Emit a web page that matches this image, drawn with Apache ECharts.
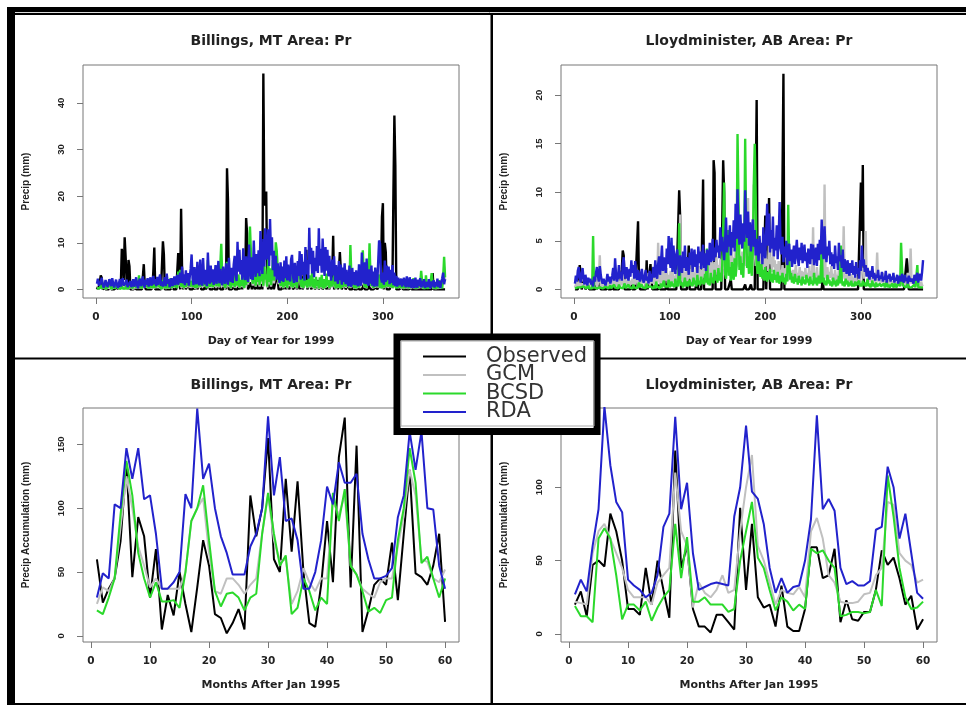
<!DOCTYPE html>
<html><head><meta charset="utf-8">
<script src="https://cdn.jsdelivr.net/npm/echarts@6/dist/echarts.min.js"></script>
<style>html,body{margin:0;padding:0;background:#fff}#c{width:966px;height:705px}</style>
</head><body><div id="c"></div>
<script>
// ---------- names / ticks ----------
const seriesNames = ['Observed', 'GCM', 'BCSD', 'RDA'];
const panelTitles = ['Billings, MT Area: Pr', 'Lloydminister, AB Area: Pr', 'Billings, MT Area: Pr', 'Lloydminister, AB Area: Pr'];
const xNames = ['Day of Year for 1999', 'Day of Year for 1999', 'Months After Jan 1995', 'Months After Jan 1995'];
const yNames = ['Precip (mm)', 'Precip (mm)', 'Precip Accumulation (mm)', 'Precip Accumulation (mm)'];
const xTicksDay = [0, 100, 200, 300];
const xTicksMonth = [0, 10, 20, 30, 40, 50, 60];
const yTicksTL = [0, 10, 20, 30, 40];
const yTicksTR = [0, 5, 10, 15, 20];
const yTicksBL = [0, 50, 100, 150];
const yTicksBR = [0, 50, 100, 150];

// ---------- daily data, Billings 1999 ----------
const obsB = [0,0.5,0,0,3,2.5,0,0,0.5,0,0,0,0,0,0.5,0,0,0,0,0,0,0.5,0,0,0,1,8.7,6.8,2,11.2,
7,2,0,6.3,5,0,0,0,0,0,0.5,0,0,0,0,0,0,0,0,5.4,1,0,0,0,0,0,0,0,0.5,4,
9,0,0,0,0,0,0,0,0,10.3,7.5,0,0,0,0,0,0,0,0,1,0,0,0,0,0,7.8,5,0,17.3,4.5,
0,1,2,0,0,0,1.5,0,0,0,0,1.5,0,0,1,0,0,0,1.8,0,0,0,0,2,0,0,0,1.5,0,0,
0,0,1,0,0,0,0,0,2,0,0,0,0,0,4,0,26,19.3,0,0,0,0,0,1.5,0,0,0,0,1,0,
0,1.5,0,0,3,1.5,15.3,12,0,0,0,1.5,0,0,2,0,0,1,0,2,0,0,1.5,0,46.3,19,18,21,3,0,
0,2,0,0,1.5,0,0,0,3,2,0,0,0,0,1.5,0,0,2,0,4,3.5,0,0,0,2,0,0,0,1,0,
0,2,0,0,3,0,0,0,1.5,8.5,0,0,0,2,0,0,0,1.5,0,0,0,2,0,0,0,1.5,0,0,0,1,
0,0,1.5,0,0,0,3,11.5,0,0,0,1.5,0,0,8,7.8,0,0,0,1.5,0,0,0,1,0,0,0,0,1,0,
0,0,0,1.5,0,0,0,0,0,1,0,0,0,0,0,1,0,0,0,0,0,0,0.5,0,0,0,1,3,15.5,18.5,
0,10,8,0,0,0,0,0,0,2,20.8,37.3,26.5,0,0,0,0,0,0,0.5,0,0,0,0,0,0,0,0,0.5,0,
0,0,0,0,0,0,0,0,0,0,0,0,0,0,0,0,0,0,0,0,0,3.5,0,0,0,0,0,0,0,0,
0,0,0,0,0];
const gcmB = [0.3,0.5,0.1,0.2,0.7,0.2,0.1,0.3,0.6,0.1,0.2,0.1,0.4,0.2,0.8,0.1,0.3,0.1,0.5,0.2,0.1,0.6,0.2,0.1,0.4,0.1,0.6,0.2,0.1,0.3,
0.2,0.7,0.1,0.3,0.1,0.5,0.9,0.2,0.1,0.4,1,0.2,1.3,0.3,1.8,0.2,0.8,0.2,0.5,0.1,1.4,0.4,0.2,0.9,0.2,0.6,1.5,0.2,0.1,0.7,
0.2,1.1,0.3,0.1,1.7,0.5,0.2,0.8,0.1,1.4,0.3,0.9,0.1,0.4,1.2,0.2,0.7,1.7,0.2,0.1,0.9,0.4,1.5,0.6,0.2,2.6,0.8,2.9,0.4,0.2,
1.1,0.2,1.8,0.4,0.1,1,2.2,0.4,0.1,1.3,0.4,2.8,0.7,0.2,1.4,0.3,0.6,2,0.4,0.1,1.5,0.5,0.2,1.8,0.6,0.2,4.2,1,0.4,0.2,
1.4,0.4,0.1,0.9,2.3,0.5,0.2,1.5,0.4,3.6,6.5,2,0.6,1.5,0.2,0.8,4,1.4,0.5,2,0.2,1.3,0.6,2.6,0.4,0.1,1.7,0.6,2.2,0.3,
1.4,0.5,2.8,0.8,0.2,1.9,0.6,3.6,1,4.8,8,5.5,2,0.8,3.8,2.5,0.6,2,1.1,4.2,0.6,2.4,1.2,2.9,0.6,3.5,1.5,2.2,0.4,4.6,
1.1,3.1,0.6,2.2,4.4,1.3,2.6,6.8,5.8,3.2,1.1,2.8,0.5,2,0.8,0.3,2.4,0.5,1.7,0.2,2.2,0.7,3.1,0.4,1.7,0.3,2.4,0.6,1.5,0.2,
2,2.9,4.5,1,0.4,1.6,0.2,2.2,0.6,1.4,0.3,0.1,2.1,0.4,1.2,2.5,0.3,1.5,0.1,1.9,0.5,1.3,0.1,1.8,0.4,2.2,0.6,0.1,1.5,0.3,
2.4,0.6,1.4,0.2,0.1,1.7,0.4,0.1,2.2,0.6,0.1,1.3,0.3,2.8,0.5,0.1,1.5,0.4,0.1,2.1,0.4,0.1,1,1.7,0.3,6.5,2,0.5,1.5,0.2,
1.3,0.1,0.8,2.2,0.3,0.1,1.5,2.8,5.8,1.5,0.4,2,0.2,3.1,1.3,6.8,2.1,0.5,1.5,0.2,1.7,0.4,0.1,1.6,0.4,2.2,0.2,1.3,0.1,0.8,
1.5,0.3,0.1,1.8,0.4,0.1,1.3,0.4,2,0.2,0.1,1.4,0.5,0.1,1.5,0.3,0.1,1.1,0.2,0.1,1,0.1,1.3,0.3,0.1,0.8,0.1,1.4,0.2,0.1,
0.7,1.7,0.1,0.9,0.1,1.1,0.3,0.1,0.8,2.8,1.3,0.1,0.8,0.1,2.1,0.4,0.1,0.9,0.2,0.1,2.5,0.6,0.1,1,0.1,0.4,0.8,0.1,1.4,0.2,
0.6,0.1,1.6,4.9,1.8];
const bcsdB = [0.2,0.6,0.1,0.3,1,0.2,0.1,0.4,0.8,0.1,0.3,0.1,0.6,0.2,1.1,0.1,0.4,0.1,0.7,0.2,0.1,0.9,0.3,0.1,0.5,0.1,0.8,0.2,0.1,0.4,
0.2,1,0.1,0.4,0.1,0.7,1.3,0.2,0.1,0.6,1.4,0.3,1.9,0.4,3,0.3,1.1,0.2,0.6,0.1,2,0.5,0.2,1.3,0.2,0.8,2.2,0.3,0.1,0.9,
0.3,1.5,0.4,0.2,2.5,0.7,0.3,1.1,0.1,2,0.4,1.2,0.2,0.5,1.6,0.2,0.9,2.4,0.3,0.2,1.2,0.5,2.1,0.8,0.3,3.8,1.1,4.2,0.6,0.3,
1.5,0.3,2.6,0.6,0.2,1.4,3.1,0.6,0.2,1.8,0.5,4.1,0.9,0.3,2,0.4,0.8,2.9,0.6,0.2,2.2,0.7,0.3,2.6,0.8,0.3,6.3,1.4,0.6,0.3,
2,0.5,0.2,1.3,3.3,0.7,0.3,2.2,0.6,5.2,9.8,2.8,0.8,2.2,0.3,1.2,5.9,2,0.7,2.9,0.3,1.8,0.9,3.8,0.5,0.2,2.4,0.8,3.2,0.4,
2,0.7,4,1.1,0.3,2.7,0.9,5.2,1.4,6.9,13.5,8,2.8,1.2,5.5,3.6,0.8,2.9,1.6,6,0.9,3.4,1.7,4.2,0.8,5,2.1,3.2,0.6,6.6,
1.6,4.5,0.9,3.2,6.3,1.9,3.8,10.1,8.3,4.6,1.6,4,0.7,2.9,1.2,0.4,3.5,0.7,2.4,0.3,3.1,1,4.4,0.6,2.5,0.4,3.4,0.8,2.1,0.3,
2.8,4.2,6.5,1.4,0.5,2.3,0.3,3.2,0.8,2,0.4,0.2,3,0.6,1.7,3.6,0.4,2.2,0.2,2.7,0.7,1.9,0.2,2.6,0.5,3.1,0.8,0.2,2.2,0.4,
3.4,0.8,2,0.3,0.1,2.5,0.6,0.2,3.2,0.9,0.2,1.9,0.4,4,0.7,0.2,2.2,0.5,0.1,3,0.6,0.2,1.5,2.5,0.4,9.5,2.8,0.7,2.1,0.3,
1.9,0.2,1.2,3.1,0.4,0.1,2.1,4,8.4,2.2,0.5,2.8,0.3,4.5,1.8,9.9,3,0.7,2.2,0.3,2.5,0.5,0.1,2.3,0.6,3.2,0.3,1.9,0.2,1.1,
2.1,0.4,0.1,2.6,0.6,0.2,1.9,0.5,2.9,0.3,0.1,2,0.7,0.2,2.2,0.4,0.1,1.6,0.3,0.1,1.4,0.2,1.8,0.4,0.1,1.2,0.2,2,0.3,0.1,
1,2.4,0.2,1.3,0.1,1.6,0.4,0.1,1.1,4,1.8,0.2,1.2,0.1,3,0.6,0.1,1.3,0.3,0.1,3.5,0.9,0.2,1.5,0.1,0.6,1.2,0.2,2,0.3,
0.8,0.2,2.3,7,2.6];
const rdaB = [1.2,2.3,0.8,0.4,1.6,2.5,1.1,0.4,0.9,2,1.3,0.5,1.1,2.2,1.5,0.7,2.4,1.2,0.4,1.2,2.1,0.9,0.3,1.3,2.2,0.6,1.6,2.4,0.8,0.4,
1.3,2.1,0.5,0.2,0.9,1.8,0.5,1.2,2.2,0.6,1.3,2.6,0.8,0.3,1.7,2.3,0.7,1.4,2.8,0.9,0.4,2.1,1,2.4,0.6,1.5,2.6,0.8,1.7,2.9,
1.1,2.2,0.7,2.7,1,2.1,3.2,0.8,1.7,0.6,1.5,2.6,0.7,3.4,1.2,2.2,0.5,1.2,2.4,0.7,1.6,2.8,0.9,2.1,3.1,1,2.3,3.6,1.4,4.9,
1.3,3.2,0.9,4.1,1.4,3.5,0.8,2.6,4.4,7.5,2.4,0.9,4.8,1.8,1.1,5.9,2,0.9,6.4,1.9,0.8,6.7,2.3,1.1,4.2,0.7,7.9,2.4,1.2,5.1,
1.5,4.3,1,2.5,5.2,1.2,3.4,6.1,1.3,4.4,2.1,0.9,4.9,2.2,1.2,5.6,2.8,1,6.8,3,1.6,4.6,1.4,5.3,7.2,3.1,1.8,10.2,3.8,8.5,
3.2,6.3,2.1,8.8,3.8,2,7.1,2.9,1.6,9.6,4.4,2.2,6.9,2,10.5,4.8,2.7,7.6,3.5,8.4,2.8,12.5,6,3.3,10.8,4.9,13.1,6.4,8.2,12.9,
5,15.1,7.3,11.2,4.1,8.3,2.8,7.2,2.1,5.6,2.7,1.4,5.8,1.8,4.9,1.6,6.2,2.4,7.1,1.9,5.3,2.5,1.7,6.4,7.4,2.8,1.4,5.7,2.6,1.6,
6.1,2.9,8.2,2.1,7.6,3.1,5.9,1.9,9.1,3.2,6.3,2.3,13.2,5.4,8.9,3.4,8.3,2.6,6.8,3.9,9.3,3.5,13.1,5.1,8.7,3.6,10.9,5.8,2.9,9.1,
4,8.5,2.8,7.2,3.6,1.9,6.4,3,7.1,1.7,5.2,2.6,1.2,6.1,2,5.3,1,4.7,1.6,5.6,1.1,4.2,1.5,0.7,5.1,1.4,0.6,4.6,1,3.7,
0.9,4.1,1.5,0.7,5.4,1.3,0.8,7.9,2.6,1.3,5.8,1.1,6.6,1.6,0.8,4.3,1.2,5.1,0.8,3.8,0.6,4.7,1.3,0.7,5.6,10.5,9.8,2.5,1.5,3.6,
1,6.2,1.6,5.1,2,4.9,1.1,4.2,1.4,5.2,0.9,3.6,0.7,2.9,0.6,2.5,0.9,1.6,2.3,0.6,0.4,2.5,1,0.5,2.8,1.2,0.5,2.6,0.9,0.3,
2.2,0.8,0.3,2.5,0.9,0.4,2.1,0.7,2.4,0.4,1.8,0.6,2.2,0.3,1.6,1.9,0.5,2.2,0.8,0.2,1.7,0.6,2,0.4,1.6,0.7,2.3,0.5,1.8,0.3,
1.5,2.4,3.6,1.1,2.2];

// ---------- daily data, Lloydminister 1999 ----------
const obsL = [0,0,0,0,0.5,2.5,1.5,0,0,0,1,0,0,0,0.5,0,0,0,0,0,0,0,0.5,0,0,0,1.5,0,0,0,
0,0,0,0,0.5,0,0,0,0,1,0,0,0,0,0,0,0,0,0,2,4,3.5,0,0,0,0,0,0,0,0.5,
0,0,0,0,0,0,7,0.5,0,0,0,0,0,0,0,3,0,0,0,2.6,1,0,0,0,0,0,0,0,0.5,0,
0,0,0,0,0,0,1,0,0,0,0,0,0,0,0,0,0,0,0,10.2,7.5,0,0,0,0,0,0,0,0,4.5,
0,0,0,0,0,0,0,0,1.5,0,0,0,0,0,11.3,0,0,0,0,0,0,0,0,0,0,13.3,12,0,0,0,
0,0,0,0,0,13.3,10,0,0,0,0,0,0,1,0,0,0,0,0,0,0,0,0,0,0,0,0,0,0.5,0,
0,0,0,0,0.5,0,0,0,0,0,19.5,0,0,0,0,0,0,0,0,7.6,0,0,0,9.4,0,0,0,0,0,0,
0,0,0,0,0,0,0,0,22.2,0,0,0,0,0,0,0,0,0,0,0,0,0,0,0,0,0,0,0,0,0,
0,0,0,0,0,0,0,0,0,0,0,0,0,0,0,0,0,0,0,1,0,0,0,0,0,0,0,0,0,0,
0,0,0,0,0,0,0,0,0,0,0,0,0,0,0,0,0,0,0,0,0,0,0,0,0,0,0,0,0,11,
6,12.8,0,0,0,0,0,0,0,0,0,0,0,0,0,0,0,0,0,0,0,0,0,0,0,0,0,0,0,0,
0,0,0,0,0,0,0,0,0,0,0,0,0,0,0,0,0,3.2,2,0,0,0,0,0,0,0,0,0,0,0,
0,0,0,0,0];
const gcmL = [0.2,0.4,0.7,0.2,0.5,0.9,0.3,0.1,0.6,0.3,0.8,0.2,0.4,0.1,0.8,0.2,0.5,0.2,0.7,0.3,0.1,0.6,1.1,0.2,0.4,1,3.5,0.5,0.2,0.6,
0.3,0.8,0.2,0.5,0.9,0.2,0.6,0.3,1.1,0.3,0.6,1,0.2,0.7,1.4,0.3,0.9,0.3,1.2,0.4,1.6,0.5,0.3,1,0.4,0.8,1.5,0.3,0.9,0.5,
1.1,0.4,1.6,0.5,0.3,1.2,1.9,0.4,0.9,0.3,1.3,0.6,0.4,1.4,0.6,0.3,1,1.7,0.5,0.4,1.2,0.6,1.8,0.7,0.4,1.6,0.8,4.8,0.9,0.5,
1.6,0.7,2.5,0.6,1.8,0.9,2.2,0.6,1.5,0.4,1.9,0.8,2.4,0.7,1.4,0.5,2,0.9,2.7,0.7,7.7,1.7,0.8,2.3,0.7,1.8,0.5,2,0.8,2.4,
1.1,2.1,0.6,2.6,1.2,1.7,0.7,3,1.4,0.8,2.4,1,2,0.6,2.8,1.2,3.1,0.9,2.5,1.5,0.8,2.7,1.3,3.2,1.7,1,2.8,1.5,3.4,1.8,
2.5,1.2,3.1,1.8,2.8,3.6,2.1,3.4,1.5,2.6,3.6,1.8,3,2.2,5,1.9,3.3,2.1,4.2,2.5,3.1,4.6,2.3,3.5,2,3.9,2.5,3.3,4.5,2.4,
3.8,9.4,2.9,4,2.6,4.6,3.1,10.8,3.9,2.4,4.9,2.9,3.7,2.2,4.2,2.8,2,3.5,1.7,4,2.4,3.1,1.9,5.1,2.6,3.3,1.8,4.4,2.3,3,
1.2,2.6,1.5,2.9,1.3,2,1,2.5,1.5,0.9,2.2,1.2,1.8,0.9,2.4,1.1,1.9,0.8,2,1.1,1.6,2.5,0.9,1.7,1.2,2.3,1,1.9,0.8,1.8,
1.2,2.2,0.9,1.7,1.1,2.4,0.8,1.9,1.3,6.4,1,1.7,0.8,2.3,1.1,1.5,0.9,2.5,1.2,2,1,10.8,1.8,1.1,2.3,0.9,1.8,1.2,2.4,1,
1.6,0.8,2,1,1.5,0.7,2.2,1,1.7,0.9,1.9,6.5,1.1,1.5,0.7,1.8,0.9,1.4,0.6,1.6,0.8,1.2,0.6,1.5,0.9,1.1,0.5,1.4,0.7,1.7,
1.5,2.2,1.1,1.7,6,1.4,2.1,1,1.6,0.8,1.9,1.2,0.9,1.5,0.7,1.3,3.8,0.8,1.4,0.6,1.2,0.7,1.7,0.5,1.1,0.5,1.5,0.6,1,0.4,
1.3,0.5,0.9,0.3,1.4,0.6,0.8,0.3,1.1,0.5,1.5,0.4,0.9,0.5,1.2,0.3,0.7,0.4,1.7,0.4,1,4.2,0.6,0.4,0.9,0.3,0.7,0.4,1.3,0.3,
0.6,0.2,0.8,0.4,0.5];
const bcsdL = [0.1,0.3,0.1,0.2,0.4,0.1,0.2,0.1,0.2,0.3,0.1,0.2,0.1,0.2,0.4,0.1,0.1,0.3,0.1,5.5,0.2,0.1,0.3,0.1,0.3,0.1,0.2,0.1,0.4,0.1,
0.2,0.1,0.3,0.1,0.3,0.1,0.2,0.4,0.1,0.3,0.1,0.5,0.2,0.1,0.3,0.1,0.5,0.2,0.1,0.4,0.1,0.3,0.6,0.1,0.2,0.1,0.5,0.2,0.1,0.3,
0.1,0.5,0.2,0.1,0.4,0.1,0.3,0.7,0.2,0.1,0.5,0.2,0.1,0.3,0.1,0.6,0.2,0.4,0.1,0.3,0.5,0.2,0.1,0.4,0.1,0.8,0.3,0.2,0.5,0.1,
0.6,0.2,0.4,0.9,0.3,0.1,0.5,0.3,1,0.2,0.5,0.8,0.3,0.6,0.2,1.1,0.3,0.7,0.3,6.8,1,0.4,0.7,0.2,0.5,1.2,0.3,0.8,0.3,0.6,
1,0.4,0.7,0.3,1.2,0.5,0.9,0.3,1.5,0.5,0.9,0.4,1.3,0.6,1,0.5,1.6,0.7,4.2,0.5,1.1,0.4,1.7,0.7,1.2,0.6,2,0.9,1.4,0.7,
2.2,0.9,1.7,0.8,2.5,6.2,11,1.6,1.1,3,6.1,1.4,2.3,0.9,2.8,1.5,1,3.2,1.3,2.4,16,9.5,2,3.4,1.5,2.7,1.2,4,15.5,6.5,
2.2,3.4,1.6,6.3,2.3,1.4,4.1,10.8,15,9.6,2.7,1.6,3.5,2,1.3,2.6,1.1,2,0.9,2.3,1.3,0.8,1.8,1,2.1,0.8,1.6,0.7,2,1,
1.5,0.7,1.8,0.9,0.6,1.4,0.8,1.7,0.7,1.2,0.5,1.6,0.8,8.7,3.2,1,1.7,0.7,1.3,0.6,1.6,0.8,1.1,0.5,1.4,0.7,1,0.4,1.3,0.6,
1,0.5,1.5,0.7,1.1,0.4,1.3,0.6,0.9,0.4,1.7,0.6,1.2,0.4,0.9,1.4,0.6,1,5,0.7,1.2,0.5,0.9,0.4,1.5,0.6,1,0.4,0.8,0.3,
1.2,0.5,0.9,0.3,1,0.4,1.4,0.6,4.5,0.9,0.4,0.8,0.3,1.1,0.5,0.9,0.3,0.7,0.4,0.9,0.3,0.6,0.3,0.8,0.4,0.6,0.2,0.9,0.3,0.6,
0.3,0.9,0.4,0.7,0.3,0.6,1.1,0.3,0.6,0.2,0.5,0.9,0.3,0.6,0.2,0.7,0.3,0.5,0.2,0.6,0.3,0.4,0.2,0.6,0.2,0.4,0.8,0.2,0.5,0.2,
0.4,0.2,0.6,0.2,0.4,0.6,0.2,0.4,0.2,0.7,0.3,4.8,2.1,0.4,0.2,0.5,0.2,0.4,0.6,0.2,0.3,0.4,0.2,0.4,0.2,0.5,0.2,0.3,2.5,0.2,
0.2,0.4,0.2,0.3,0.2];
const rdaL = [0.6,1.4,0.8,1.9,2.3,1.2,0.7,1.6,2.2,1.1,0.5,1.5,0.9,0.4,1.2,0.7,1.1,0.5,0.9,0.3,1.3,0.8,1.7,2.3,1.4,0.8,2.4,1.5,0.9,0.6,
1.1,0.7,0.4,0.9,1.6,0.8,1.3,0.6,1,1.4,2.2,0.9,3.2,1.5,0.8,1.2,2.5,1.1,1.8,0.9,2.7,3.3,1.6,1.1,2.3,1.4,0.9,2.1,1.3,3,
1.7,2.5,1.1,2.9,1.5,1,2,1.2,0.8,1.6,2.1,1,0.7,1.4,2,0.9,1.3,0.6,1.9,1.1,0.8,1.5,2.3,1.2,3,1.6,1.1,2.6,3.4,1.5,
2.8,4.5,1.9,3.3,2.5,1.7,4.2,2.6,5.5,3.1,2.2,5.3,1.8,4.5,2.9,1.6,3.6,4.1,2.5,1.4,3.5,2.4,1.7,3.9,2.2,4.5,1.9,3.3,2.7,1.5,
3.8,2.5,4.2,1.8,3.3,4.1,2.3,3.6,1.7,4.4,2.7,3.9,2.1,3.4,4.6,2.2,3.7,1.9,4.1,3.1,2.5,4.8,2.8,3.6,5.2,2.9,4.3,3.3,5.1,3.8,
4.5,3.2,6.4,3.9,5.4,4.1,3,4.9,7.4,3.8,5.6,4.4,6.6,3.5,5.9,4.3,7.1,3.9,8.8,5.2,10.3,6.3,4.6,7.7,5.5,4.2,6.8,4.9,10.2,6.5,
5.3,8,4.5,6.9,3.9,5.7,7.2,4.4,6.1,3.5,5.2,4.3,2.9,5.5,3.7,4.8,2.6,6.4,4.1,3.2,5.9,8.8,4.5,7.8,3.8,6.1,4.2,7.5,3.4,5.3,
4,6.6,3.1,5.2,9,4.3,3.6,5.4,2.8,4.4,3.3,5,2.5,3.8,4.7,2.9,4.1,2.3,3.6,4.5,2.6,3.9,5.1,3.2,2.4,4.3,3,4.8,2.7,3.5,
4.6,2.9,3.8,2.2,4.2,3.3,2.6,4.7,3.1,4.6,2.5,3.7,4.3,2.4,4.7,3,5.1,3.6,7.2,4.2,3.1,6.5,3.9,2.8,4.4,3.5,5,2.6,3.8,2.4,
3.6,2.1,4.5,2.7,3.4,2,4.8,2.9,3.5,2.2,4.1,1.8,3.1,2.4,1.6,3,2.1,1.4,2.7,1.7,3,1.5,2.4,1.2,2.8,1.6,2.2,1.1,3,1.9,
4.5,2.4,3.1,1.8,2.5,1.3,2.2,1.6,1,1.9,1.3,2.4,1.1,1.7,0.9,1.5,1.2,2,0.9,1.4,1.1,1.8,0.8,1.3,1,1.9,0.7,1.4,1.1,1.6,
0.8,1.3,1,1.7,0.7,1.2,0.9,1.5,0.6,1.1,1.4,0.8,1.6,1,0.7,1.5,0.9,1.2,0.6,1.4,1.6,0.8,1.1,1.3,0.6,1.5,0.9,1.2,1.7,0.7,
1.3,1.6,0.9,1.8,3];

// ---------- monthly accumulation, Jan 1995 - Dec 1999 ----------
const obsMB = [60,26,37,45,74,135,46,93,78,30,68,5,32,16,50,25,3,38,75,55,17,14,2,10,21,5,110,78,100,155,60,50,123,66,121,50,10,7,40,90,42,140,171,38,149,3,20,40,45,40,73,28,80,130,49,46,40,55,80,11];
const gcmMB = [25,38,35,45,85,125,100,70,55,38,45,37,37,37,37,50,90,100,108,65,35,33,45,45,40,33,40,45,80,110,75,58,60,25,35,53,42,35,45,45,105,95,110,55,48,37,33,30,42,45,45,70,95,130,110,60,58,45,42,52];
const bcsdMB = [20,17,30,45,95,137,110,65,45,30,42,27,27,28,22,50,90,100,118,75,35,23,33,34,30,20,30,33,80,112,80,55,63,17,22,45,35,20,30,25,112,90,115,55,48,35,19,22,18,28,30,75,100,147,120,57,62,45,30,45];
const rdaMB = [30,49,45,103,100,147,123,147,107,110,80,37,37,42,50,111,100,178,123,135,100,78,65,48,48,48,70,80,100,172,110,140,90,92,75,37,37,50,75,117,103,136,120,120,127,80,60,45,45,47,53,93,110,160,130,160,100,99,55,37];
const obsML = [20,29,12,47,50,46,82,70,50,17,17,13,45,20,50,30,11,125,45,60,17,5,5,1,13,13,8,3,86,30,75,25,18,20,5,33,5,2,2,17,59,59,38,40,58,8,23,10,9,15,15,30,57,47,52,38,20,26,3,10];
const gcmML = [22,21,20,55,70,75,65,55,45,30,25,25,25,20,35,40,45,110,70,60,18,35,28,25,30,40,28,30,70,100,122,60,50,35,20,30,28,27,32,25,70,79,65,40,35,22,21,21,22,27,28,40,45,90,88,55,50,47,35,37];
const bcsdML = [19,12,12,8,65,72,65,40,10,20,20,16,22,9,18,25,30,75,38,66,22,22,25,20,20,20,15,17,50,70,90,52,45,30,16,25,22,16,20,17,58,55,57,50,45,12,13,15,15,14,15,30,19,108,80,45,25,17,18,22];
const rdaML = [27,37,29,60,85,155,115,90,83,37,33,30,25,28,40,73,82,148,85,103,55,30,32,34,35,34,33,80,100,142,97,92,75,45,28,38,28,32,33,50,78,149,85,92,84,45,34,36,33,33,36,71,73,114,100,65,82,55,28,24];

// ---------- layout / style ----------
const colors = ['#000000', '#c0c0c0', '#2bd92b', '#2222cc'];
const grids = [
  {left: 83, top: 65, width: 376, height: 233},
  {left: 561, top: 65, width: 376, height: 233},
  {left: 83, top: 408, width: 376, height: 234},
  {left: 561, top: 408, width: 376, height: 234}
];
const xRanges = [[-13.56, 379.56], [-13.56, 379.56], [-1.36, 62.36], [-1.36, 62.36]];
const yRanges = [[-1.85, 48.15], [-0.89, 23.1], [-4.8, 178.5], [-5.5, 154]];
const xTicks = [xTicksDay, xTicksDay, xTicksMonth, xTicksMonth];
const yTicks = [yTicksTL, yTicksTR, yTicksBL, yTicksBR];
const panelData = [
  [obsB, gcmB, bcsdB, rdaB],
  [obsL, gcmL, bcsdL, rdaL],
  [obsMB, gcmMB, bcsdMB, rdaMB],
  [obsML, gcmML, bcsdML, rdaML]
];
const lineWidths = [2.4, 2.4, 2, 2];
const boxColor = '#777';
const textColor = '#222';

function pairs(arr) { return arr.map((v, i) => [i + 1, v]); }

const xAxis = [], yAxis = [], series = [];
for (let p = 0; p < 4; p++) {
  xAxis.push({
    type: 'value', gridIndex: p, min: xRanges[p][0], max: xRanges[p][1],
    name: xNames[p], nameLocation: 'middle', nameGap: 38,
    nameTextStyle: {fontFamily: 'DejaVu Sans', fontWeight: 'bold', fontSize: 11, color: textColor},
    axisLine: {show: false, onZero: false}, splitLine: {show: false},
    axisTick: {show: true, length: 6, inside: false, customValues: xTicks[p], lineStyle: {color: boxColor}},
    axisLabel: {customValues: xTicks[p], margin: 14, fontFamily: 'DejaVu Sans', fontWeight: 'bold', fontSize: 10.5, color: textColor}
  });
  yAxis.push({
    type: 'value', gridIndex: p, min: yRanges[p][0], max: yRanges[p][1],
    name: yNames[p], nameLocation: 'middle', nameGap: 52,
    nameTextStyle: {fontFamily: 'Liberation Sans', fontWeight: 'bold', fontSize: 10, color: textColor},
    axisLine: {show: false, onZero: false}, splitLine: {show: false},
    axisTick: {show: true, length: 6, inside: false, customValues: yTicks[p], lineStyle: {color: boxColor}},
    axisLabel: {customValues: yTicks[p], rotate: 90, margin: 17, fontFamily: 'Liberation Sans', fontWeight: 'bold', fontSize: 9.5, color: textColor}
  });
  for (let s = 0; s < 4; s++) {
    series.push({
      name: seriesNames[s], type: 'line', xAxisIndex: p, yAxisIndex: p,
      data: pairs(panelData[p][s]), showSymbol: false, symbol: 'none',
      lineStyle: {color: colors[s], width: lineWidths[p]}, itemStyle: {color: colors[s]},
      clip: true, animation: false, z: 2 + s * 0.1
    });
  }
}

const graphic = [
  // outer frame
  {type: 'rect', shape: {x: 7, y: 7, width: 959, height: 8}, style: {fill: '#000'}, z: 0},
  {type: 'line', shape: {x1: 13, y1: 12.5, x2: 966, y2: 12.5}, style: {stroke: '#ddd', lineWidth: 1}, z: 0},
  {type: 'rect', shape: {x: 7, y: 7, width: 8, height: 698}, style: {fill: '#000'}, z: 0},
  {type: 'rect', shape: {x: 7, y: 703, width: 959, height: 2}, style: {fill: '#000'}, z: 0},
  {type: 'rect', shape: {x: 490.5, y: 15, width: 2.5, height: 688}, style: {fill: '#000'}, z: 0},
  {type: 'rect', shape: {x: 15, y: 357.5, width: 951, height: 2}, style: {fill: '#000'}, z: 0},
  // inner light line of legend box
  {type: 'rect', shape: {x: 401, y: 341, width: 193, height: 85}, style: {fill: 'none', stroke: '#aaa', lineWidth: 1}, z: 20}
];
const titleCenters = [[271, 41], [749, 41], [271, 385], [749, 385]];
for (let p = 0; p < 4; p++) {
  graphic.push({type: 'text', x: titleCenters[p][0], y: titleCenters[p][1], z: 5,
    style: {text: panelTitles[p], fontFamily: 'DejaVu Sans', fontWeight: 'bold', fontSize: 14, fill: textColor, align: 'center', verticalAlign: 'middle'}});
}

const chart = echarts.init(document.getElementById('c'), null, {renderer: 'canvas'});
chart.setOption({
  animation: false,
  backgroundColor: '#fff',
  grid: grids.map(g => Object.assign({show: true, borderColor: boxColor, borderWidth: 1, backgroundColor: 'transparent', containLabel: false, outerBoundsMode: 'none'}, g)),
  xAxis, yAxis, series, graphic,
  legend: {
    data: seriesNames, orient: 'vertical', left: 397, top: 337,
    padding: [9, 10, 9, 26], itemGap: -2.5, itemWidth: 43, itemHeight: 2, icon: 'rect',
    backgroundColor: '#fff', borderColor: '#000', borderWidth: 7, borderRadius: 0,
    textStyle: {fontFamily: 'DejaVu Sans', fontSize: 21, color: '#333', lineHeight: 18, padding: [0, 0, 0, 15]},
    selectedMode: false, z: 10
  }
});
</script></body></html>
